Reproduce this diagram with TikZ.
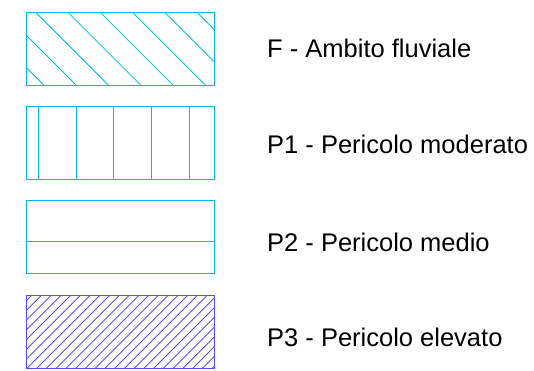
\documentclass[tikz,border=0pt]{standalone}
\usepackage{fontspec}
\setmainfont{Liberation Sans}
\definecolor{cyanline}{RGB}{0,185,240}
\definecolor{blueline}{RGB}{80,80,255}
\tikzset{
  legbox/.style={draw, line width=0.9pt},
  hatch/.style={line width=0.8pt},
  legtext/.style={anchor=base west, inner sep=0pt, font=\fontsize{25.5}{30}\selectfont}
}
\begin{document}
\begin{tikzpicture}[x=1pt,y=-1pt]
\useasboundingbox (0,0) rectangle (534,370);
% Box F
\begin{scope}
\clip (26,12) rectangle (214,85);
\foreach \k in {-2,...,5}{
  \pgfmathsetmacro{\d}{23.3+32.3*\k}
  \draw[hatch, cyanline] (\d,0) -- (\d+100,100);
}
\end{scope}
\node[legbox, cyanline, minimum width=188pt, minimum height=73pt, anchor=north west, inner sep=0pt] (bF) at (26,12) {};
% Box P1
\node[legbox, cyanline, minimum width=188pt, minimum height=73pt, anchor=north west, inner sep=0pt] (bP1) at (26,106.3) {};
\foreach \xx in {38,76,113.7,151.3,189.3}{
  \draw[hatch, cyanline] (\xx,106.3) -- (\xx,179.3);
}
% Box P2
\node[legbox, cyanline, minimum width=188pt, minimum height=73pt, anchor=north west, inner sep=0pt] (bP2) at (26,200.3) {};
\draw[hatch, cyanline] (bP2.west |- 0,241.3) -- (bP2.east |- 0,241.3);
% Box P3
\begin{scope}
\clip (26,295) rectangle (214,368);
\foreach \k in {0,...,27}{
  \pgfmathsetmacro{\d}{327+9.75*\k}
  \draw[hatch, blueline] (\d-280,280) -- (\d-400,400);
}
\end{scope}
\node[legbox, blueline, minimum width=188pt, minimum height=73pt, anchor=north west, inner sep=0pt] (bP3) at (26,295) {};
% Texts
\node[legtext] (tF) at (267,57.7) {F - Ambito fluviale};
\node[legtext] (tP1) at (267,153.3) {P1 - Pericolo moderato};
\node[legtext] (tP2) at (267,251.7) {P2 - Pericolo medio};
\node[legtext] (tP3) at (267,346.7) {P3 - Pericolo elevato};
\end{tikzpicture}
\end{document}
